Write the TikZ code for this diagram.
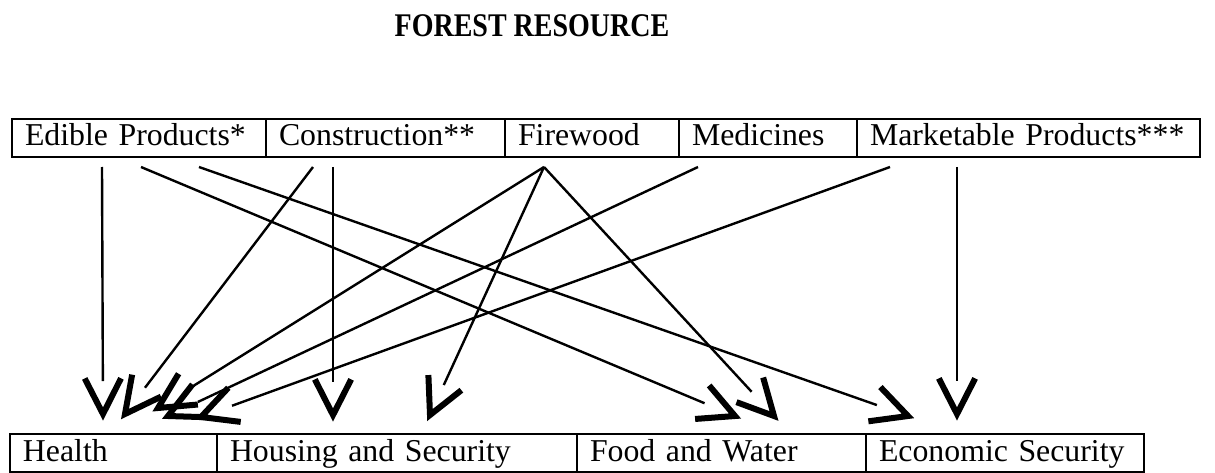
\documentclass[tikz,border=0pt]{standalone}
\usepackage{fontspec}
\usepackage{graphicx}
\setmainfont{Liberation Serif}
\usetikzlibrary{calc}
\tikzset{
  cell/.style={draw, line width=1.5pt, rectangle, inner xsep=13pt, inner ysep=0pt,
    minimum height=38pt, text height=22pt, text depth=6pt, align=left,
    font=\fontsize{31.8}{36}\selectfont},
  shaft/.style={line width=2.4pt},
  head/.style={line width=6pt, line join=miter, miter limit=10}
}
\newcommand\fconn[2]{%
  \draw[shaft] (#1) -- ($(#2)!33pt!(#1)$);
  \draw[head] ($(#2)!40pt!27:(#1)$) -- (#2) -- ($(#2)!40pt!-27:(#1)$);
}
\begin{document}
\begin{tikzpicture}[x=1pt,y=-1pt]
\useasboundingbox (0,0) rectangle (1215,473);
\node[anchor=base, inner sep=0pt, font=\fontsize{28}{32}\selectfont\bfseries] (title) at (532,37) {\scalebox{1}[1.18]{FOREST RESOURCE}};
% top row
\node[cell, minimum width=254pt, text width=228pt] (edible) at (139,138) {Edible Products*};
\node[cell, minimum width=239pt, text width=213pt] (constr) at (385.5,138) {Construction**};
\node[cell, minimum width=174pt, text width=148pt] (fire) at (592,138) {Firewood};
\node[cell, minimum width=178pt, text width=152pt] (med) at (768,138) {Medicines};
\node[cell, minimum width=343pt, text width=317pt] (mkt) at (1028.5,138) {Marketable Products***};
% bottom row
\node[cell, minimum width=207pt, text width=181pt] (health) at (113.5,453) {Health};
\node[cell, minimum width=360pt, text width=334pt] (house) at (397,453) {Housing and Security};
\node[cell, minimum width=289pt, text width=263pt] (food) at (721.5,453) {Food and Water};
\node[cell, minimum width=278pt, text width=252pt] (econ) at (1005,453) {Economic Security};
% start points
\coordinate (ed1) at (102,167);
\coordinate (ed2) at (141,167);
\coordinate (ed3) at (199,167);
\coordinate (co1) at (313,167);
\coordinate (co2) at (333,167);
\coordinate (fw) at (544,167);
\coordinate (me) at (698,167);
\coordinate (mk1) at (890,167);
\coordinate (mk2) at (957,167);
% tips
\coordinate (h1) at (103,414);
\coordinate (h2) at (125,414);
\coordinate (h3) at (158,408);
\coordinate (h4) at (168,416);
\coordinate (h5) at (201,417);
\coordinate (ho1) at (333,415);
\coordinate (ho2) at (430,415);
\coordinate (f1) at (735,416);
\coordinate (f2) at (774,416);
\coordinate (e1) at (908,416);
\coordinate (e2) at (957,414);
% connectors
\fconn{ed1}{h1}
\fconn{ed2}{f1}
\fconn{ed3}{e1}
\fconn{co1}{h2}
\fconn{co2}{ho1}
\fconn{fw}{h3}
\fconn{fw}{ho2}
\fconn{fw}{f2}
\fconn{me}{h4}
\fconn{mk1}{h5}
\fconn{mk2}{e2}
\end{tikzpicture}
\end{document}
